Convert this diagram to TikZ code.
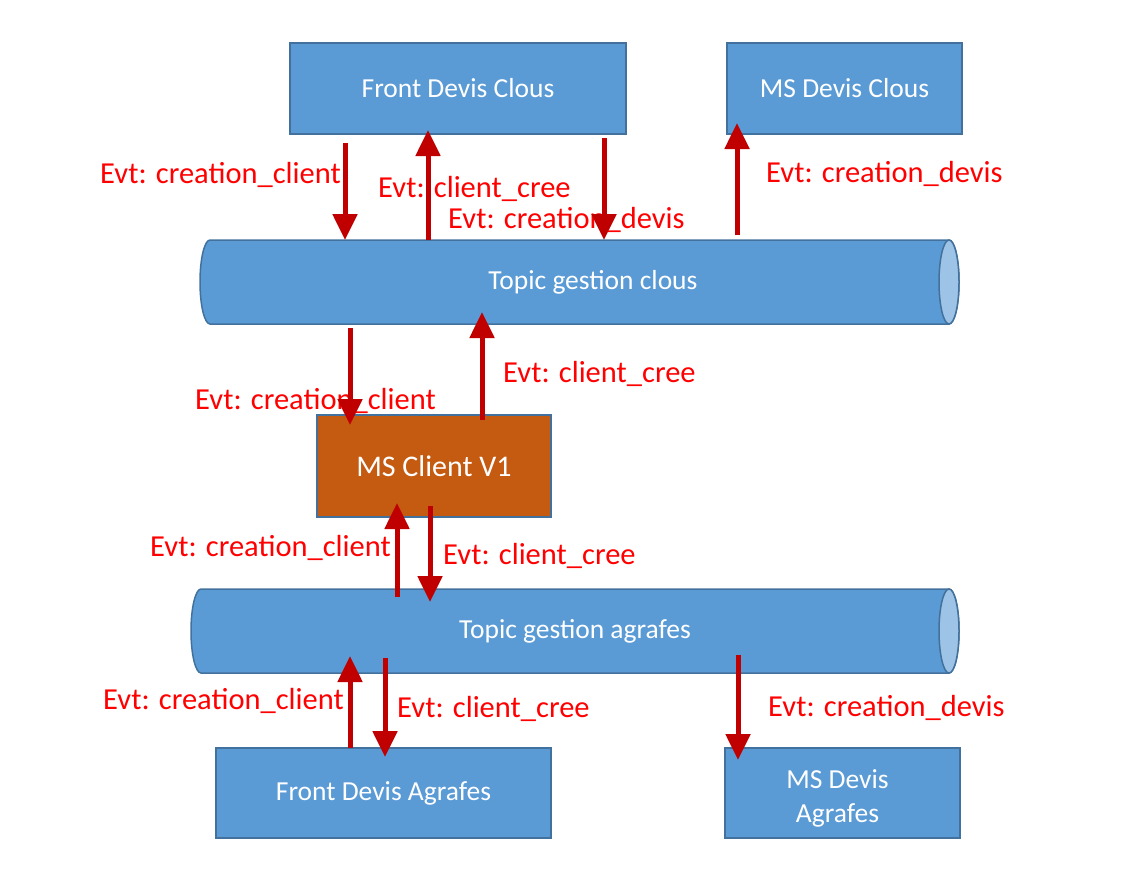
\documentclass[tikz,border=0pt]{standalone}
\usepackage{fontspec}
\setmainfont{Carlito}
\usepackage{tikz}
\usetikzlibrary{arrows.meta}
\definecolor{boxblue}{HTML}{5B9BD5}
\definecolor{boxline}{HTML}{41719C}
\definecolor{endblue}{HTML}{9DC3E6}
\definecolor{clientbrown}{HTML}{C55A11}
\definecolor{arrowred}{HTML}{C00000}
\definecolor{evtred}{HTML}{FF0000}
% pipe: left x, x of the end ellipse, middle y
\def\pipe(#1:#2:#3){%
	\draw[pipeline, fill=boxblue] ({#2},{#3-42}) -- ({#1+10},{#3-42}) arc[start angle=270, end angle=90, x radius=10, y radius=42]
		-- ({#2},{#3+42}) arc[start angle=90, end angle=-90, x radius=10, y radius=42] -- cycle;
	\draw[pipeline, fill=endblue] (#2,#3) ellipse[x radius=10, y radius=42];}

\begin{document}
\begin{tikzpicture}[x=1pt,y=-1pt,
	svc/.style={draw=boxline, line width=1.5pt, fill=boxblue, text=white, inner sep=0pt, outer sep=0pt,
		font=\fontsize{27.5}{34}\selectfont, align=center},
	pipeline/.style={draw=boxline, line width=1.5pt},
	topic/.style={text=white, inner sep=0pt, outer sep=0pt, minimum height=84pt,
		font=\fontsize{27.5}{34}\selectfont},
	evtlbl/.style={text=evtred, inner sep=0pt, anchor=base west, font=\fontsize{30.5}{36}\selectfont},
	evt/.style={draw=arrowred, line width=5pt, -{Triangle[width=24pt,length=26pt]}}]
			%%%%% START %%%%%
			\useasboundingbox (0,0) rectangle (1123,881);
			
			\node[svc, minimum width=336pt, minimum height=91pt] (fdc) at (458, 88.5) {Front Devis Clous};
			\node[svc, minimum width=235pt, minimum height=91pt] (mdc) at (844.5, 88.5) {MS Devis Clous};
			
			\pipe(200:949:282)
			\node[topic] (tgc) at (593, 282) {Topic gestion clous};
			
			\node[svc, fill=clientbrown, minimum width=234pt, minimum height=102pt,
				font=\fontsize{30}{36}\selectfont] (msc) at (434, 466) {MS Client V1};
			
			\pipe(191:949:631)
			\node[topic] (tga) at (575, 631) {Topic gestion agrafes};
			
			\node[svc, minimum width=335pt, minimum height=90pt] (fda) at (383.5, 793) {Front Devis Agrafes};
			\node[svc, minimum width=235pt, minimum height=90pt] (mda) at (842.5, 793) {\rule{0pt}{30pt}MS Devis\hspace*{10pt}\\Agrafes\hspace*{10pt}};
			
			% labels first, arrows are drawn over them
			\node[evtlbl] (l1) at (100, 183) {Evt: creation\_client};
			\node[evtlbl] (l2) at (378, 197) {Evt: client\_cree};
			\node[evtlbl] (l3) at (448, 228) {Evt: creation\_devis};
			\node[evtlbl] (l4) at (766, 182) {Evt: creation\_devis};
			\node[evtlbl] (l5) at (195, 409) {Evt: creation\_client};
			\node[evtlbl] (l6) at (503, 382) {Evt: client\_cree};
			\node[evtlbl] (l7) at (150, 556) {Evt: creation\_client};
			\node[evtlbl] (l8) at (443, 564) {Evt: client\_cree};
			\node[evtlbl] (l9) at (103, 709) {Evt: creation\_client};
			\node[evtlbl] (l10) at (397, 717) {Evt: client\_cree};
			\node[evtlbl] (l11) at (768, 716) {Evt: creation\_devis};
			
			% topic gestion clous
			\draw[evt] ([yshift=-9pt]345,0 |- fdc.south) -- (345,0 |- tgc.north);
			\draw[evt] (428,0 |- tgc.north) -- ([yshift=4pt]428,0 |- fdc.south);
			\draw[evt] ([yshift=-4pt]604,0 |- fdc.south) -- (604,0 |- tgc.north);
			\draw[evt] ([yshift=5pt]737,0 |- tgc.north) -- ([yshift=11pt]737,0 |- mdc.south);
			
			% MS client
			\draw[evt] ([yshift=-4pt]350,0 |- tgc.south) -- ([yshift=-10pt]350,0 |- msc.north);
			\draw[evt] ([yshift=-5pt]482,0 |- msc.north) -- ([yshift=12pt]482,0 |- tgc.south);
			\draw[evt] ([yshift=-8pt]397,0 |- tga.north) -- ([yshift=14pt]397,0 |- msc.south);
			\draw[evt] ([yshift=11pt]430,0 |- msc.south) -- ([yshift=-13pt]430,0 |- tga.north);
			
			% topic gestion agrafes
			\draw[evt] (350,0 |- fda.north) -- ([yshift=17pt]350,0 |- tga.south);
			\draw[evt] ([yshift=15pt]385,0 |- tga.south) -- ([yshift=-9pt]385,0 |- fda.north);
			\draw[evt] ([yshift=18pt]738,0 |- tga.south) -- ([yshift=-12pt]738,0 |- mda.north);
			
			%%%%% END %%%%%
\end{tikzpicture}
\end{document}
